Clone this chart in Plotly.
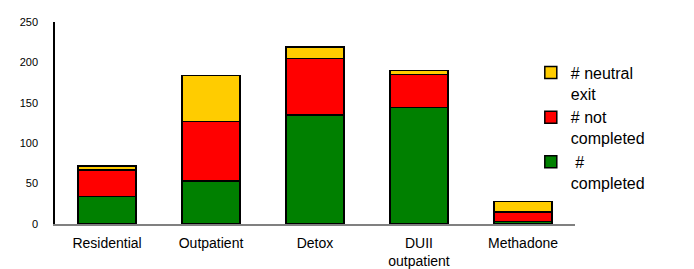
import plotly.graph_objects as go

categories = ["Residential", "Outpatient", "Detox", "DUII<br>outpatient", "Methadone"]
completed = [34, 53, 135, 144, 3]
not_completed = [33, 74, 70, 41, 12]
neutral_exit = [5, 57, 14, 5, 13]

series = [
    (" #<br>completed", completed, "#008000"),
    ("# not<br>completed", not_completed, "#FF0000"),
    ("# neutral<br>exit", neutral_exit, "#FFCC00"),
]

fig = go.Figure()
for i, (name, vals, color) in enumerate(series):
    fig.add_trace(go.Bar(
        x=categories, y=vals, name=name, legendgroup=f"g{i}",
        marker=dict(color=color, line=dict(color="#000000", width=1.5)),
        width=0.56,
    ))

fig.update_layout(
    barmode="stack",
    width=694, height=269,
    margin=dict(l=47, r=127, t=8, b=43),
    paper_bgcolor="white", plot_bgcolor="white",
    font=dict(family="Liberation Sans, Arial, sans-serif", color="#000000"),
    showlegend=True,
    legend=dict(
        traceorder="reversed",
        valign="top",
        x=0.915, xanchor="left", y=0.477, yanchor="middle",
        font=dict(size=16),
        bgcolor="rgba(0,0,0,0)",
        tracegroupgap=3,
    ),
    xaxis=dict(
        showline=True, linecolor="#808080", linewidth=1.5,
        showgrid=False, ticks="", tickfont=dict(size=14),
        ticklabelstandoff=5,
    ),
    yaxis=dict(
        range=[0, 250], tickvals=[0, 50, 100, 150, 200, 250],
        showline=True, linecolor="#000000", linewidth=1.5,
        showgrid=False, zeroline=False, ticks="",
        tickfont=dict(size=11), ticklabelstandoff=13,
    ),
)

fig.write_html("out.html")
